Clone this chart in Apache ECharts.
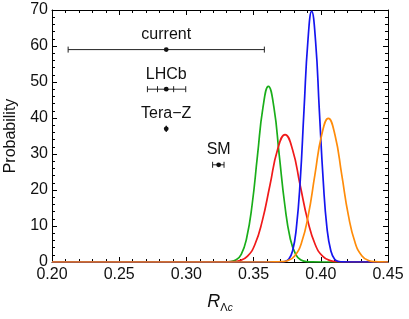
<!DOCTYPE html>
<html>
<head>
<meta charset="utf-8">
<script src="https://cdn.jsdelivr.net/npm/echarts@6/dist/echarts.min.js"></script>
<style>html,body{margin:0;padding:0;background:#fff}#c{width:409px;height:319px}</style>
</head>
<body>
<div id="c"></div>
<script>
// Curves: [x, probability]
const greenCurve = [[0.20,0],[0.31,0],[0.3286,0.02],[0.3327,0.11],[0.3367,0.54],[0.3408,2.15],[0.3448,6.6],[0.3489,15.9],[0.3529,29.6],[0.3570,43.0],[0.3610,48.8],[0.3651,43.0],[0.3691,29.6],[0.3732,15.9],[0.3772,6.6],[0.3813,2.15],[0.3853,0.54],[0.3894,0.11],[0.3934,0.02],[0.41,0],[0.45,0]];
const redCurve = [[0.20,0],[0.31,0],[0.3284,0.01],[0.3341,0.08],[0.3397,0.39],[0.3453,1.55],[0.3509,4.8],[0.3565,11.5],[0.3622,21.4],[0.3678,31.2],[0.3734,35.4],[0.3790,31.2],[0.3846,21.4],[0.3903,11.5],[0.3959,4.8],[0.4015,1.55],[0.4071,0.39],[0.4127,0.08],[0.4184,0.01],[0.43,0],[0.45,0]];
const blueCurve = [[0.20,0],[0.355,0],[0.3704,0.02],[0.3733,0.15],[0.3761,0.77],[0.3790,3.05],[0.3818,9.4],[0.3847,22.6],[0.3875,42.2],[0.3904,61.4],[0.3932,69.6],[0.3961,61.4],[0.3989,42.2],[0.4018,22.6],[0.4046,9.4],[0.4075,3.05],[0.4103,0.77],[0.4132,0.15],[0.4160,0.02],[0.43,0],[0.45,0]];
const orangeCurve = [[0.20,0],[0.35,0],[0.3657,0.01],[0.3707,0.09],[0.3757,0.44],[0.3807,1.76],[0.3857,5.4],[0.3907,13.0],[0.3956,24.2],[0.4006,35.2],[0.4056,39.9],[0.4106,35.2],[0.4156,24.2],[0.4205,13.0],[0.4255,5.4],[0.4305,1.76],[0.4355,0.44],[0.4405,0.09],[0.4455,0.01],[0.45,0]];

// Error-bar measurements
const barLabels = ['current', 'LHCb', 'Tera\u2212Z', 'SM'];
const barCenter = [0.285, 0.285, 0.285, 0.324];
const barY = [59, 48, 37, 27];
const barLow = [0.212, 0.271, 0.2848, 0.3195];
const barHigh = [0.358, 0.2995, 0.2852, 0.3280];
const innerLow = [null, 0.2785, null, null];
const innerHigh = [null, 0.2905, null, null];

const xTicks = [0.20, 0.25, 0.30, 0.35, 0.40, 0.45];
const yTicks = [0, 10, 20, 30, 40, 50, 60, 70];

const chart = echarts.init(document.getElementById('c'));
const FONT = 'Liberation Sans, Arial, sans-serif';
const TXT = '#111';
const axisCommon = {
  axisLine: {show: true, onZero: false, lineStyle: {color: '#000', width: 1}},
  axisTick: {show: true, inside: true, length: 5, lineStyle: {color: '#000'}},
  minorTick: {show: true, splitNumber: 5, length: 3, lineStyle: {color: '#000'}},
  splitLine: {show: false},
  minorSplitLine: {show: false}
};
const errData = barLabels.map((l, i) => [barCenter[i], barY[i], barLow[i], barHigh[i], innerLow[i], innerHigh[i], l]);

chart.setOption({
  animation: false,
  backgroundColor: '#fff',
  grid: {left: 52, right: 21, top: 10, bottom: 57, containLabel: false, outerBoundsMode: 'none'},
  xAxis: [
    Object.assign({type: 'value', min: xTicks[0], max: xTicks[xTicks.length-1], interval: 0.05, position: 'bottom',
      axisLabel: {color: TXT, fontSize: 16, fontFamily: FONT, margin: 5, formatter: v => v.toFixed(2)},
      name: '{r|R}{s|\u039b}{t|c}', nameLocation: 'middle', nameGap: 31,
      nameTextStyle: {rich: {
        r: {fontSize: 18, fontStyle: 'italic', fontFamily: FONT, color: TXT, lineHeight: 20, verticalAlign: 'top'},
        s: {fontSize: 11, fontFamily: FONT, color: TXT, lineHeight: 12, padding: [12, 0, 0, 0], verticalAlign: 'bottom'},
        t: {fontSize: 10, fontStyle: 'italic', fontFamily: FONT, color: TXT, lineHeight: 12, padding: [12, 0, 0, 0], verticalAlign: 'bottom'}
      }}
    }, axisCommon),
    Object.assign({type: 'value', min: xTicks[0], max: xTicks[xTicks.length-1], interval: 0.05, position: 'top',
      axisLabel: {show: false}}, axisCommon)
  ],
  yAxis: [
    Object.assign({type: 'value', min: yTicks[0], max: yTicks[yTicks.length-1], interval: 10, position: 'left',
      axisLabel: {color: TXT, fontSize: 16, fontFamily: FONT, margin: 4},
      name: 'Probability', nameLocation: 'middle', nameGap: 33,
      nameTextStyle: {fontSize: 16, fontFamily: FONT, color: TXT}
    }, axisCommon),
    Object.assign({type: 'value', min: yTicks[0], max: yTicks[yTicks.length-1], interval: 10, position: 'right',
      axisLabel: {show: false}}, axisCommon)
  ],
  series: [
    {type: 'line', data: greenCurve, showSymbol: false, smooth: true, lineStyle: {color: '#1aae1a', width: 1.7}, z: 2},
    {type: 'line', data: redCurve, showSymbol: false, smooth: true, lineStyle: {color: '#f01a1a', width: 1.7}, z: 3},
    {type: 'line', data: blueCurve, showSymbol: false, smooth: true, lineStyle: {color: '#1515f0', width: 1.7}, z: 4},
    {type: 'line', data: orangeCurve, showSymbol: false, smooth: true, lineStyle: {color: '#ff8c0a', width: 1.7}, z: 5},
    {
      type: 'custom', data: errData, z: 10,
      renderItem: function (params, api) {
        const c = api.coord([api.value(0), api.value(1)]);
        const lo = api.coord([api.value(2), api.value(1)]);
        const hi = api.coord([api.value(3), api.value(1)]);
        const st = {stroke: '#222', lineWidth: 1};
        const ch = [
          {type: 'line', shape: {x1: lo[0], y1: c[1], x2: hi[0], y2: c[1]}, style: st},
          {type: 'line', shape: {x1: lo[0], y1: c[1]-3, x2: lo[0], y2: c[1]+3}, style: st},
          {type: 'line', shape: {x1: hi[0], y1: c[1]-3, x2: hi[0], y2: c[1]+3}, style: st}
        ];
        const il = api.value(4), ih = api.value(5);
        if (il != null && !isNaN(il)) {
          const a = api.coord([il, api.value(1)]), b = api.coord([ih, api.value(1)]);
          ch.push({type: 'line', shape: {x1: a[0], y1: c[1]-3, x2: a[0], y2: c[1]+3}, style: st});
          ch.push({type: 'line', shape: {x1: b[0], y1: c[1]-3, x2: b[0], y2: c[1]+3}, style: st});
        }
        ch.push({type: 'circle', shape: {cx: c[0], cy: c[1], r: 2.4}, style: {fill: '#111'}});
        ch.push({type: 'text', x: c[0], y: c[1] - 15, style: {text: barLabels[params.dataIndex], fill: TXT, fontSize: 16, fontFamily: FONT, align: 'center', verticalAlign: 'middle'}});
        return {type: 'group', children: ch};
      }
    }
  ]
});
</script>
</body>
</html>
